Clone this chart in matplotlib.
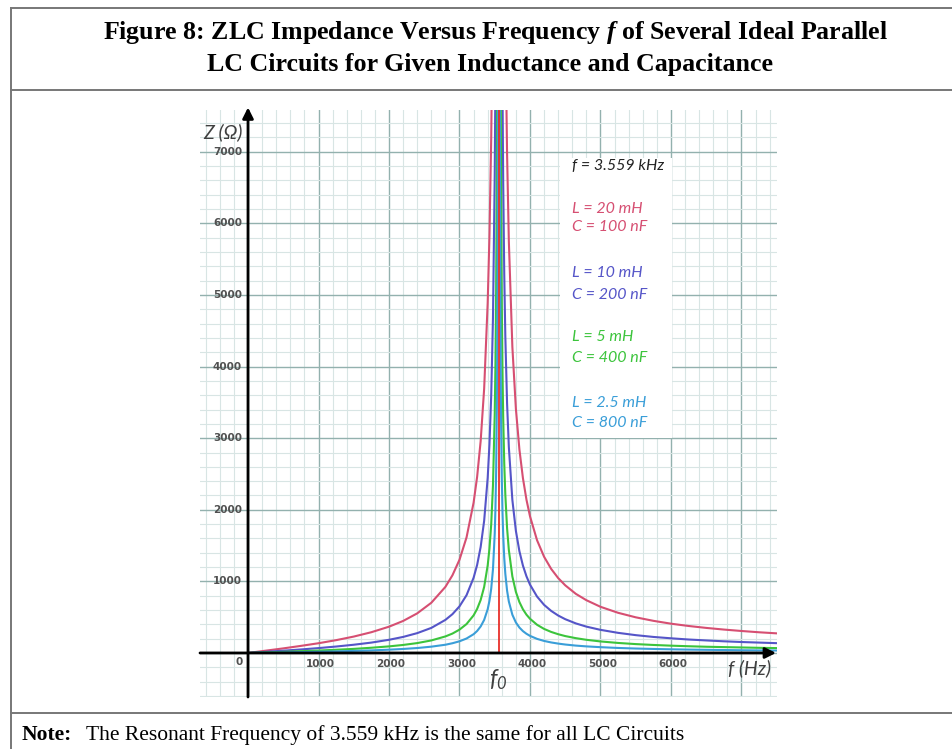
import matplotlib
matplotlib.use("Agg")
import numpy as np
import matplotlib.pyplot as plt
from matplotlib.ticker import MultipleLocator
from matplotlib.lines import Line2D
from matplotlib.patches import Rectangle

# values (Hz, Ohm); each circuit has a branch below and above f0
f0 = 3559

red_f_lo = [0, 250, 500, 750, 1000, 1250, 1500, 1750, 2000, 2200, 2400, 2600, 2800, 2900,
            3000, 3100, 3200, 3250, 3300, 3350, 3400, 3425, 3450, 3475]
red_z_lo = [0, 32, 64, 99, 136, 179, 229, 290, 367, 447, 553, 701, 923, 1085,
            1302, 1614, 2099, 2459, 2957, 3693, 4892, 5826, 7188, 9362]
red_f_hi = [3635, 3650, 3675, 3700, 3750, 3800, 3850, 3900, 3950, 4000, 4100, 4200, 4300, 4400,
            4500, 4650, 4800, 5000, 5250, 5500, 5750, 6000, 6250, 6500, 6750, 7000, 7250, 7500]
red_z_hi = [10582, 8856, 6971, 5754, 4276, 3411, 2842, 2441, 2141, 1910, 1575, 1344, 1175, 1046,
            945, 826, 737, 645, 561, 498, 449, 409, 377, 350, 327, 307, 289, 274]

blue_f_lo = [0, 250, 500, 750, 1000, 1250, 1500, 1750, 2000, 2200, 2400, 2600, 2800, 2900,
             3000, 3100, 3200, 3250, 3300, 3350, 3400, 3425, 3450, 3475, 3500, 3510, 3520]
blue_z_lo = [0, 16, 32, 49, 68, 90, 115, 145, 184, 224, 277, 350, 462, 542,
             651, 807, 1050, 1229, 1479, 1847, 2446, 2913, 3594, 4681, 6688, 8065, 10148]
blue_f_hi = [3600, 3610, 3620, 3635, 3650, 3675, 3700, 3750, 3800, 3850, 3900, 3950, 4000, 4100,
             4200, 4300, 4400, 4500, 4650, 4800, 5000, 5250, 5500, 5750, 6000, 6250, 6500, 6750,
             7000, 7250, 7500]
blue_z_hi = [9761, 7858, 6579, 5291, 4428, 3486, 2877, 2138, 1705, 1421, 1220, 1071, 955, 788,
             672, 588, 523, 472, 413, 368, 323, 281, 249, 224, 205, 188, 175, 163,
             153, 145, 137]

green_f_lo = [0, 250, 500, 750, 1000, 1250, 1500, 1750, 2000, 2200, 2400, 2600, 2800, 2900,
              3000, 3100, 3200, 3250, 3300, 3350, 3400, 3425, 3450, 3475, 3500, 3510, 3520,
              3530, 3540]
green_z_lo = [0, 8, 16, 25, 34, 45, 57, 73, 92, 112, 138, 175, 231, 271,
              326, 404, 525, 615, 739, 923, 1223, 1457, 1797, 2340, 3344, 4032, 5074,
              6833, 10444]
green_f_hi = [3580, 3590, 3600, 3610, 3620, 3635, 3650, 3675, 3700, 3750, 3800, 3850, 3900,
              3950, 4000, 4100, 4200, 4300, 4400, 4500, 4650, 4800, 5000, 5250, 5500, 5750,
              6000, 6250, 6500, 6750, 7000, 7250, 7500]
green_z_hi = [9502, 6446, 4881, 3929, 3290, 2646, 2214, 1743, 1439, 1069, 853, 711, 610,
              535, 478, 394, 336, 294, 262, 236, 207, 184, 161, 140, 124, 112,
              102, 94, 87, 82, 77, 72, 68]

cyan_f_lo = [0, 250, 500, 750, 1000, 1250, 1500, 1750, 2000, 2200, 2400, 2600, 2800, 2900,
             3000, 3100, 3200, 3250, 3300, 3350, 3400, 3425, 3450, 3475, 3500, 3510, 3520,
             3530, 3540, 3545, 3550]
cyan_z_lo = [0, 4, 8, 12, 17, 22, 29, 36, 46, 56, 69, 88, 115, 136,
             163, 202, 262, 307, 370, 462, 611, 728, 898, 1170, 1672, 2016, 2537,
             3416, 5222, 7092, 11040]
cyan_f_hi = [3568, 3572, 3580, 3590, 3600, 3610, 3620, 3635, 3650, 3675, 3700, 3750, 3800,
             3850, 3900, 3950, 4000, 4100, 4200, 4300, 4400, 4500, 4650, 4800, 5000, 5250,
             5500, 5750, 6000, 6250, 6500, 6750, 7000, 7250, 7500]
cyan_z_hi = [11068, 7666, 4751, 3223, 2440, 1965, 1645, 1323, 1107, 871, 719, 534, 426,
             355, 305, 268, 239, 197, 168, 147, 131, 118, 103, 92, 81, 70,
             62, 56, 51, 47, 44, 41, 38, 36, 34]

x_ticks = [1000, 2000, 3000, 4000, 5000, 6000]
y_ticks = [1000, 2000, 3000, 4000, 5000, 6000, 7000]

legend_lines = ["L = 20 mH", "C = 100 nF", "L = 10 mH", "C = 200 nF",
                "L = 5 mH", "C = 400 nF", "L = 2.5 mH", "C = 800 nF"]

c_red = '#d64f72'
c_blue = '#5555c8'
c_green = '#3cc43c'
c_cyan = '#3a9ed8'

plt.rcParams['mathtext.fontset'] = 'custom'
plt.rcParams['mathtext.it'] = 'Liberation Serif:italic:bold'
plt.rcParams['mathtext.rm'] = 'Liberation Serif:bold'
plt.rcParams['mathtext.sf'] = 'Lato:italic'

fig = plt.figure(figsize=(9.52, 7.49), dpi=100)
W, H = 952, 749

def fx(px):
    return px / W

def fy(py):
    return 1 - py / H

# frame lines
fig.add_artist(Line2D([fx(11), fx(11)], [fy(8), 0], color='#777777', lw=1.4))
fig.add_artist(Line2D([fx(11), 1], [fy(8), fy(8)], color='#777777', lw=1.4))
fig.add_artist(Line2D([fx(11), 1], [fy(90), fy(90)], color='#777777', lw=1.4))
fig.add_artist(Line2D([fx(11), 1], [fy(713), fy(713)], color='#777777', lw=1.4))

fig.text(fx(495), fy(33), r"Figure 8: ZLC Impedance Versus Frequency $f$ of Several Ideal Parallel",
         ha='center', va='center', family='Liberation Serif', weight='bold', size=18.6)
fig.text(fx(490), fy(64), "LC Circuits for Given Inductance and Capacitance",
         ha='center', va='center', family='Liberation Serif', weight='bold', size=18.6)
fig.text(fx(22), fy(735), "Note:", ha='left', va='center', family='Liberation Serif',
         weight='bold', size=15.5)
fig.text(fx(86), fy(735), "The Resonant Frequency of 3.559 kHz is the same for all LC Circuits",
         ha='left', va='center', family='Liberation Serif', size=15.5)

ax = fig.add_axes([fx(200), fy(697), (777 - 200) / W, (697 - 110) / H])
ax.set_xlim(-681, 7504)
ax.set_ylim(-615, 7584)
ax.xaxis.set_major_locator(MultipleLocator(1000))
ax.xaxis.set_minor_locator(MultipleLocator(200))
ax.yaxis.set_major_locator(MultipleLocator(1000))
ax.yaxis.set_minor_locator(MultipleLocator(200))
ax.grid(which='major', color='#93b1ae', lw=1.0)
ax.grid(which='minor', color='#d8e5e4', lw=0.8)
ax.set_axisbelow(True)
ax.tick_params(which='both', length=0, labelbottom=False, labelleft=False)
for s in ax.spines.values():
    s.set_visible(False)

# curves
ax.plot(red_f_lo, red_z_lo, color=c_red, lw=1.5)
ax.plot(red_f_hi, red_z_hi, color=c_red, lw=1.5)
ax.plot(blue_f_lo, blue_z_lo, color=c_blue, lw=1.5)
ax.plot(blue_f_hi, blue_z_hi, color=c_blue, lw=1.5)
ax.plot(green_f_lo, green_z_lo, color=c_green, lw=1.5)
ax.plot(green_f_hi, green_z_hi, color=c_green, lw=1.5)
ax.plot(cyan_f_lo, cyan_z_lo, color=c_cyan, lw=1.5)
ax.plot(cyan_f_hi, cyan_z_hi, color=c_cyan, lw=1.5)
ax.plot([f0, f0], [0, 7584], color='#e8302a', lw=1.3)

# axes with arrows
ax.annotate('', xy=(7490, 0), xytext=(-681, 0), annotation_clip=False,
            arrowprops=dict(arrowstyle='-|>', color='black', lw=2, mutation_scale=16,
                            shrinkA=0, shrinkB=0))
ax.annotate('', xy=(0, 7620), xytext=(0, -615), annotation_clip=False,
            arrowprops=dict(arrowstyle='-|>', color='black', lw=2, mutation_scale=16,
                            shrinkA=0, shrinkB=0))

# tick labels
for v in x_ticks:
    ax.text(v + 30, -155, str(v), ha='center', va='center', size=7.5, weight='bold', color='#505050')
for v in y_ticks:
    ax.text(-85, v, str(v), ha='right', va='center', size=7.5, weight='bold', color='#505050')
ax.text(-125, -125, "0", ha='center', va='center', size=7.5, weight='bold', color='#505050')

ax.text(-355, 7280, "Z (Ω)", ha='center', va='center', size=14, style='italic',
        family=['Lato', 'DejaVu Sans'], color='#404040')
ax.text(7120, -210, "f (Hz)", ha='center', va='center', size=14, style='italic',
        family=['Lato', 'DejaVu Sans'], color='#404040')
ax.text(3546, -370, r"$\mathsf{f}_\mathsf{0}$", ha='center', va='center', size=17, color='#404040')

# label box
ax.add_patch(Rectangle((4426, 3003), 6014 - 4426, 6913 - 3003, facecolor='white',
                       edgecolor='none', zorder=3))
ax.text(4596, 6802, "f = 3.559 kHz", ha='left', va='center', size=11.5, style='italic',
        family='Lato', color='#222222', zorder=4)
label_y = [6201, 5950, 5307, 5000, 4413, 4120, 3492, 3212]
label_c = [c_red, c_red, c_blue, c_blue, c_green, c_green, c_cyan, c_cyan]
for t, yv, c in zip(legend_lines, label_y, label_c):
    ax.text(4596, yv, t, ha='left', va='center', size=11.5, style='italic',
            family='Lato', color=c, zorder=4)

fig.savefig('out.png', dpi=100)
